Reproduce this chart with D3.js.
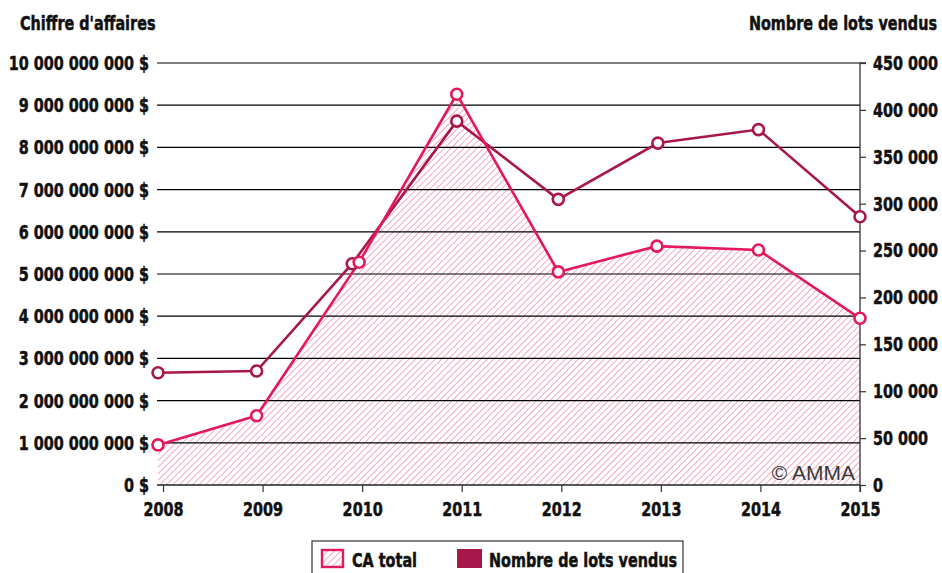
<!DOCTYPE html>
<html>
<head>
<meta charset="utf-8">
<script src="https://cdn.jsdelivr.net/npm/d3@7"></script>
<style>
  body { margin: 0; background: #fff; }
  svg { display: block; }
  text { font-family: "DejaVu Sans", sans-serif; font-weight: bold; fill: #111; }
  text.bold { stroke: #111; stroke-width: 0.55px; }
</style>
</head>
<body>
<div id="main"></div>
<script>
const ctx = {
  w: 942,
  h: 573,
};

// data
const years = [2008, 2009, 2010, 2011, 2012, 2013, 2014, 2015];
// points sit slightly left of the year ticks in the original
const caX = [2007.95, 2008.94, 2009.97, 2010.95, 2011.97, 2012.96, 2013.98, 2015];
const lotsX = [2007.95, 2008.94, 2009.9, 2010.95, 2011.97, 2012.97, 2013.98, 2015];
const caTotal = [0.95e9, 1.64e9, 5.28e9, 9.26e9, 5.05e9, 5.66e9, 5.57e9, 3.95e9];
const lotsVendus = [119700, 121500, 236000, 388000, 304600, 364600, 379000, 286000];
const leftTicks = [0, 1e9, 2e9, 3e9, 4e9, 5e9, 6e9, 7e9, 8e9, 9e9, 10e9];
const rightTicks = [0, 50000, 100000, 150000, 200000, 250000, 300000, 350000, 400000, 450000];

const caColor = "#e5195a";
const lotsColor = "#a8174a";
const hatchColor = "#ee6f96";

// french style thousands: 10 000 000 000
const fmt = d3.formatLocale({ decimal: ",", thousands: " ", grouping: [3], currency: ["", " $"] }).format(",d");

// no condensed font installed: narrow the glyphs instead
const K = 0.72;
function squeeze(sel, k) {
  sel.each(function() {
    const L = this.getComputedTextLength();
    d3.select(this).attr("textLength", L * k).attr("lengthAdjust", "spacingAndGlyphs");
  });
}

function styleTicks(g) {
  g.selectAll(".tick text")
   .classed("bold", true)
   .attr("fill", "#111")
   .style("font-size", "20px")
   .style("font-family", '"DejaVu Sans", sans-serif')
   .style("font-weight", "bold")
   .call(squeeze, K);
}

function createChart(svg) {
  const x = d3.scaleLinear().domain([2008, 2015]).range([163, 860]);
  const yL = d3.scaleLinear().domain([0, 10e9]).range([485, 63]);
  const yR = d3.scaleLinear().domain([0, 450000]).range([485, 63]);
  const left = x(2007.94), right = x(2015);

  // hatch pattern
  const defs = svg.append("defs");
  const pat = defs.append("pattern")
      .attr("id", "hatch")
      .attr("patternUnits", "userSpaceOnUse")
      .attr("width", 4.6).attr("height", 4.6)
      .attr("patternTransform", "rotate(45)");
  pat.append("line")
      .attr("x1", 0).attr("y1", 0).attr("x2", 0).attr("y2", 4.6)
      .attr("stroke", hatchColor).attr("stroke-width", 1.2);

  // area under CA
  const caPts = years.map((d, i) => [caX[i], caTotal[i]]);
  const lotsPts = years.map((d, i) => [lotsX[i], lotsVendus[i]]);
  const area = d3.area()
      .x(d => x(d[0]))
      .y0(yL(0))
      .y1(d => yL(d[1]));
  svg.append("path")
      .datum(caPts)
      .attr("d", area)
      .attr("fill", "url(#hatch)");

  // gridlines
  svg.append("g").selectAll("line")
     .data(leftTicks.slice(1))
     .enter().append("line")
     .attr("x1", left).attr("x2", right)
     .attr("y1", d => yL(d)).attr("y2", d => yL(d))
     .attr("stroke", "#000").attr("stroke-width", 1.2);

  // left labels
  svg.append("g").selectAll("text")
     .data(leftTicks)
     .enter().append("text")
     .attr("class", "bold")
     .attr("x", 149)
     .attr("y", d => yL(d))
     .attr("dy", "0.35em")
     .attr("text-anchor", "end")
     .style("font-size", "20px")
     .text(d => fmt(d) + " $")
     .call(squeeze, K);

  // right axis
  const rAxis = d3.axisRight(yR)
      .tickValues(rightTicks)
      .tickSize(6)
      .tickPadding(7)
      .tickFormat(d => fmt(d));
  const gR = svg.append("g")
      .attr("transform", `translate(${right},0)`)
      .call(rAxis);
  gR.select(".domain").attr("stroke", "#333").attr("stroke-width", 1.3).attr("d", `M6,${yR(450000)}H0V${yR(0) + 7}`);
  gR.selectAll(".tick line").attr("stroke", "#333").attr("stroke-width", 1.2);
  styleTicks(gR);

  // bottom axis
  const bAxis = d3.axisBottom(x)
      .tickValues(years)
      .tickSize(7)
      .tickPadding(10)
      .tickFormat(d3.format("d"));
  const gB = svg.append("g")
      .attr("transform", `translate(0,${yL(0)})`)
      .call(bAxis);
  gB.select(".domain").attr("stroke", "#222").attr("stroke-width", 1.6).attr("d", `M${left},0H${right}`);
  gB.selectAll(".tick line").attr("stroke", "#333").attr("stroke-width", 1.2);
  styleTicks(gB);

  // axis titles
  svg.append("text").attr("class", "bold").attr("x", 20).attr("y", 30)
     .style("font-size", "20px").text("Chiffre d'affaires").call(squeeze, K);
  svg.append("text").attr("class", "bold").attr("x", 937).attr("y", 30).attr("text-anchor", "end")
     .style("font-size", "20px").text("Nombre de lots vendus").call(squeeze, K);

  // watermark
  svg.append("text").attr("x", 855).attr("y", 480).attr("text-anchor", "end")
     .style("font-family", '"Liberation Sans", Arial, sans-serif')
     .style("font-weight", "normal")
     .style("font-size", "21px")
     .style("fill", "#3a3a3a")
     .text("\u00a9 AMMA");

  // lines
  const lineL = d3.line().x(d => x(d[0])).y(d => yL(d[1]));
  const lineR = d3.line().x(d => x(d[0])).y(d => yR(d[1]));
  svg.append("path").datum(lotsPts).attr("d", lineR)
     .attr("fill", "none").attr("stroke", lotsColor).attr("stroke-width", 2.6);
  svg.append("path").datum(caPts).attr("d", lineL)
     .attr("fill", "none").attr("stroke", caColor).attr("stroke-width", 2.6);

  svg.append("g").selectAll("circle")
     .data(lotsPts).enter().append("circle")
     .attr("cx", d => x(d[0])).attr("cy", d => yR(d[1])).attr("r", 5.5)
     .attr("fill", "#fff").attr("stroke", lotsColor).attr("stroke-width", 2.6);
  svg.append("g").selectAll("circle")
     .data(caPts).enter().append("circle")
     .attr("cx", d => x(d[0])).attr("cy", d => yL(d[1])).attr("r", 5.5)
     .attr("fill", "#fff").attr("stroke", caColor).attr("stroke-width", 2.6);

  // legend
  const lg = svg.append("g");
  lg.append("rect").attr("x", 312).attr("y", 541).attr("width", 371).attr("height", 40)
    .attr("fill", "#fff").attr("stroke", "#333").attr("stroke-width", 1.2);
  lg.append("rect").attr("x", 322).attr("y", 550).attr("width", 21).attr("height", 17)
    .attr("fill", "url(#hatch)").attr("stroke", caColor).attr("stroke-width", 2.4);
  lg.append("text").attr("class", "bold").attr("x", 352).attr("y", 567)
    .style("font-size", "20px").text("CA total").call(squeeze, K);
  lg.append("rect").attr("x", 457).attr("y", 549).attr("width", 25).attr("height", 19)
    .attr("fill", lotsColor);
  lg.append("text").attr("class", "bold").attr("x", 489).attr("y", 567)
    .style("font-size", "20px").text("Nombre de lots vendus").call(squeeze, K);
}

function createViz() {
  let svgEl = d3.select("#main").append("svg");
  svgEl.attr("width", ctx.w);
  svgEl.attr("height", ctx.h);
  createChart(svgEl);
}

createViz();
</script>
</body>
</html>
